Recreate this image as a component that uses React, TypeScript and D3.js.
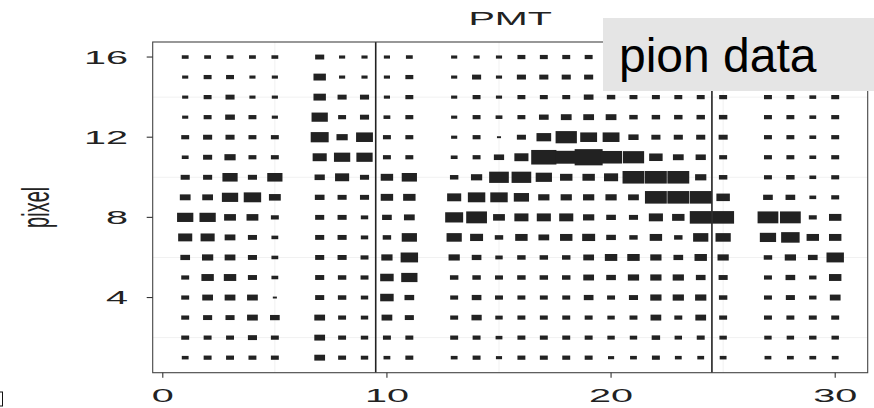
import React, { useRef, useEffect } from 'react'
import * as d3 from 'd3'

// PMT columns that carry a read-out (6, 12 and 26 are empty)
const pmts = [1, 2, 3, 4, 5, 7, 8, 9, 10, 11, 13, 14, 15, 16, 17, 18, 19, 20, 21, 22, 23, 24, 25, 27, 28, 29, 30]
const pixels = [16, 15, 14, 13, 12, 11, 10, 9, 8, 7, 6, 5, 4, 3, 2, 1]

// signal per pixel row (top row first), one value per entry of pmts
const row16 = [7, 7, 7, 7, 7, 16, 5, 5, 5, 7, 5, 5, 5, 11, 11, 11, 11, 11, 11, 11, 11, 11, 11, 11, 11, 7, 11]
const row15 = [5, 11, 11, 5, 5, 36, 5, 5, 5, 11, 5, 16, 5, 16, 16, 16, 16, 11, 11, 11, 11, 11, 11, 11, 11, 7, 11]
const row14 = [5, 11, 16, 5, 5, 36, 16, 16, 5, 11, 5, 11, 5, 11, 11, 11, 19, 13, 11, 11, 11, 11, 11, 11, 11, 7, 11]
const row13 = [5, 11, 19, 11, 5, 69, 11, 16, 7, 11, 5, 11, 7, 11, 19, 25, 25, 25, 13, 13, 13, 13, 13, 11, 11, 7, 11]
const row12 = [11, 16, 16, 11, 11, 87, 28, 75, 11, 11, 5, 11, 1, 16, 54, 128, 75, 75, 22, 16, 16, 16, 16, 11, 11, 7, 11]
const row11 = [7, 16, 28, 11, 11, 49, 69, 69, 11, 11, 7, 11, 22, 49, 187, 144, 235, 136, 128, 44, 25, 22, 11, 11, 11, 7, 11]
const row10 = [16, 16, 59, 16, 59, 22, 49, 16, 36, 59, 13, 28, 107, 107, 69, 36, 36, 49, 136, 136, 136, 28, 13, 11, 13, 7, 11]
const row9 = [25, 25, 69, 81, 32, 19, 16, 16, 36, 36, 49, 81, 81, 59, 28, 28, 28, 28, 25, 136, 136, 136, 44, 19, 19, 7, 11]
const row8 = [69, 69, 32, 32, 11, 16, 16, 9, 19, 25, 87, 121, 32, 49, 49, 49, 28, 19, 16, 49, 36, 136, 136, 121, 121, 11, 36]
const row7 = [49, 49, 25, 16, 7, 16, 16, 9, 13, 59, 59, 40, 13, 36, 25, 36, 40, 19, 13, 36, 13, 59, 59, 69, 93, 36, 36]
const row6 = [19, 28, 25, 16, 7, 16, 16, 11, 28, 81, 28, 19, 9, 13, 13, 13, 25, 36, 36, 28, 19, 36, 28, 13, 28, 19, 81]
const row5 = [11, 36, 36, 16, 7, 16, 13, 11, 44, 69, 13, 13, 11, 13, 13, 13, 25, 19, 28, 28, 28, 19, 16, 11, 19, 9, 36]
const row4 = [11, 25, 25, 25, 1, 16, 13, 9, 44, 19, 11, 19, 11, 11, 11, 11, 19, 11, 16, 28, 28, 28, 13, 11, 16, 9, 25]
const row3 = [11, 16, 16, 25, 19, 25, 11, 9, 25, 16, 11, 22, 9, 11, 11, 11, 11, 9, 11, 25, 11, 25, 11, 11, 11, 11, 11]
const row2 = [11, 11, 11, 16, 11, 25, 11, 9, 11, 11, 11, 11, 7, 11, 11, 11, 11, 9, 9, 13, 9, 11, 9, 9, 9, 9, 9]
const row1 = [7, 11, 11, 11, 11, 25, 11, 9, 7, 11, 7, 11, 5, 11, 11, 11, 11, 5, 7, 11, 7, 7, 7, 7, 7, 7, 7]
const counts = [row16, row15, row14, row13, row12, row11, row10, row9, row8, row7, row6, row5, row4, row3, row2, row1]

const xTicks = [0, 10, 20, 30]
const yTicks = [4, 8, 12, 16]
const xMinor = [5, 15, 25]
const yMinor = [2, 6, 10, 14]
const dividers = [9.5, 24.5]

function App() {
  const ref = useRef(null)
  const W = 874, H = 408
  const margin = { top: 42, right: 6.3, bottom: 35.3, left: 152.7 }
  const stretch = 2.2
  const font = 'Liberation Sans, Arial, Helvetica, sans-serif'

  useEffect(() => {
    draw()
  }, [])

  const draw = () => {
    const svg = d3.select(ref.current)
    svg.selectAll('*').remove()

    const x = d3.scaleLinear().domain([-0.45, 31.45]).range([margin.left, W - margin.right])
    const y = d3.scaleLinear().domain([0.25, 16.75]).range([H - margin.bottom, margin.top])
    const size = d3.scaleSqrt().domain([0, 256]).range([0, 16])
    const rw = (n) => 1.67 * size(n) + 2.4
    const rh = (n) => size(n) + 0.9

    const cells = []
    pixels.forEach((p, i) => pmts.forEach((c, j) => cells.push({ pmt: c, pixel: p, n: counts[i][j] })))

    svg.append('rect').attr('width', W).attr('height', H).attr('fill', '#fff')

    // light grid (minor positions only)
    const grid = svg.append('g').attr('stroke', '#f1f1f1').attr('stroke-width', 1)
    grid.selectAll('line.gx').data(xMinor).enter().append('line')
      .attr('x1', (d) => x(d)).attr('x2', (d) => x(d))
      .attr('y1', margin.top).attr('y2', H - margin.bottom)
    grid.selectAll('line.gy').data(yMinor).enter().append('line')
      .attr('y1', (d) => y(d)).attr('y2', (d) => y(d))
      .attr('x1', margin.left).attr('x2', W - margin.right)

    svg.append('g').selectAll('rect').data(cells).enter().append('rect')
      .attr('x', (d) => x(d.pmt) - rw(d.n) / 2)
      .attr('y', (d) => y(d.pixel) - rh(d.n) / 2)
      .attr('width', (d) => rw(d.n))
      .attr('height', (d) => rh(d.n))
      .attr('fill', '#222')

    svg.append('g').selectAll('line').data(dividers).enter().append('line')
      .attr('x1', (d) => x(d)).attr('x2', (d) => x(d))
      .attr('y1', margin.top).attr('y2', H - margin.bottom)
      .attr('stroke', '#222').attr('stroke-width', 1.6)

    svg.append('rect')
      .attr('x', margin.left).attr('y', margin.top)
      .attr('width', W - margin.left - margin.right)
      .attr('height', H - margin.top - margin.bottom)
      .attr('fill', 'none').attr('stroke', '#444').attr('stroke-width', 1.1)

    // y axis
    const yAxis = svg.append('g')
    yAxis.selectAll('line').data(yTicks).enter().append('line')
      .attr('x1', margin.left - 6).attr('x2', margin.left)
      .attr('y1', (d) => y(d)).attr('y2', (d) => y(d))
      .attr('stroke', '#333').attr('stroke-width', 1.1)
    yAxis.selectAll('text').data(yTicks).enter().append('text')
      .attr('transform', (d) => 'translate(128,' + (y(d) + 6.5) + ') scale(' + stretch + ',1)')
      .attr('text-anchor', 'end')
      .style('font-family', font).style('font-size', '18px').style('fill', '#222')
      .text((d) => d)

    // x axis
    const xAxis = svg.append('g')
    xAxis.selectAll('line').data(xTicks).enter().append('line')
      .attr('x1', (d) => x(d)).attr('x2', (d) => x(d))
      .attr('y1', H - margin.bottom).attr('y2', H - margin.bottom + 5)
      .attr('stroke', '#333').attr('stroke-width', 1.1)
    xAxis.selectAll('text').data(xTicks).enter().append('text')
      .attr('transform', (d) => 'translate(' + x(d) + ',402) scale(' + stretch + ',1)')
      .attr('text-anchor', 'middle')
      .style('font-family', font).style('font-size', '18px').style('fill', '#222')
      .text((d) => d)

    svg.append('text')
      .attr('transform', 'translate(' + (margin.left + W - margin.right) / 2 + ',25) scale(' + stretch + ',1)')
      .attr('text-anchor', 'middle')
      .style('font-family', font).style('font-size', '18px').style('fill', '#222')
      .text('PMT')

    svg.append('text')
      .attr('transform', 'translate(49,' + (margin.top + H - margin.bottom) / 2 + ') scale(1.9,1) rotate(-90)')
      .attr('text-anchor', 'middle')
      .style('font-family', font).style('font-size', '20px').style('fill', '#222')
      .text('pixel')

    // stray frame at the bottom-left corner
    svg.append('rect')
      .attr('x', -4).attr('y', 392).attr('width', 6.5).attr('height', 14)
      .attr('fill', 'none').attr('stroke', '#111').attr('stroke-width', 1)

    // data tag
    svg.append('rect')
      .attr('x', 603).attr('y', 18).attr('width', W - 603).attr('height', 73)
      .attr('fill', '#e5e5e5')
    svg.append('text')
      .attr('x', 619).attr('y', 72)
      .style('font-family', font).style('font-size', '48px').style('fill', '#000')
      .text('pion data')
  }

  return (
    <div style={{ position: 'absolute', left: 0, top: 0 }}>
      <svg ref={ref} width={W} height={H} style={{ display: 'block' }}></svg>
    </div>
  )
}

export default App
